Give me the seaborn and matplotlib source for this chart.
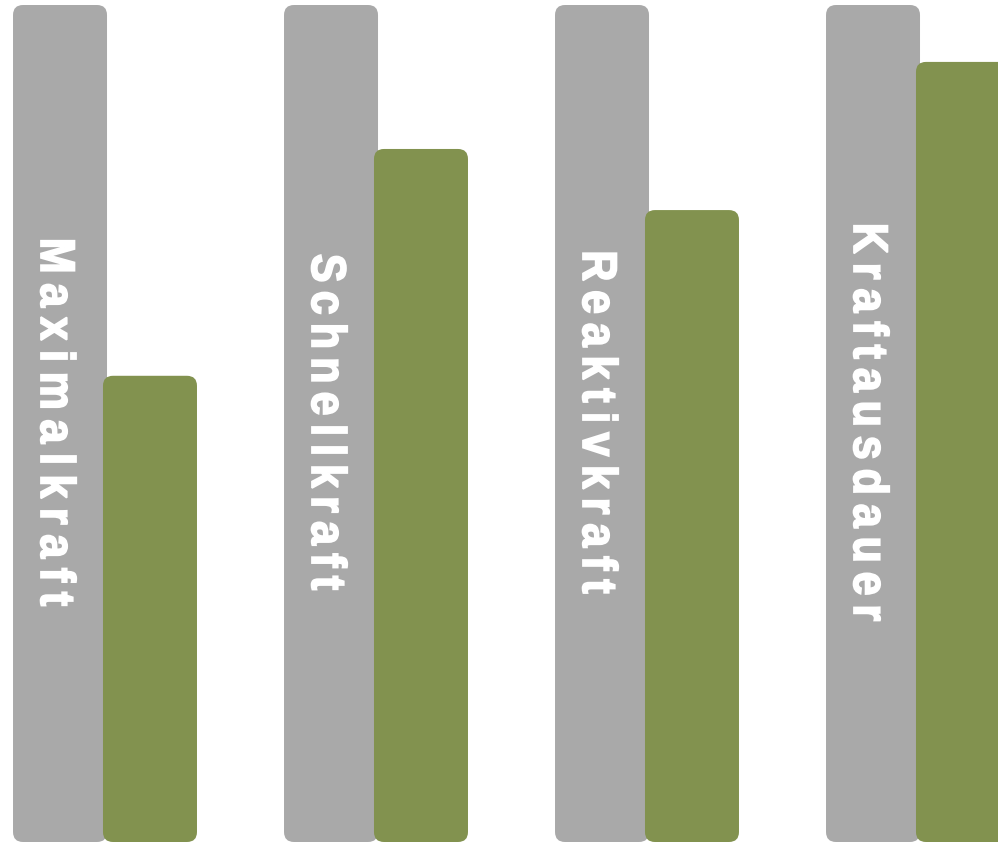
import matplotlib
matplotlib.use("Agg")
import matplotlib.pyplot as plt
from matplotlib import font_manager
from matplotlib.patches import FancyBboxPatch
from matplotlib.patheffects import AbstractPathEffect
from matplotlib.transforms import Affine2D
import seaborn as sns
import pandas as pd

categories = ["Maximalkraft", "Schnellkraft", "Reaktivkraft", "Kraftausdauer"]
series = ["Maximum", "Wert"]
max_values = [100, 100, 100, 100]
values = [55.7, 82.8, 75.5, 93.2]
colors = ["#a9a9a9", "#82924f"]

df = pd.DataFrame({
    "Kategorie": categories * 2,
    "Serie": [series[0]] * 4 + [series[1]] * 4,
    "Wert": max_values + values,
})

# layout: length (px) of each rotated label along the bar
label_len_px = [370, 338, 345, 400]

sns.set_theme(style="white")
W, H, DPI = 998, 843, 100
fig = plt.figure(figsize=(W / DPI, H / DPI), dpi=DPI)
ax = fig.add_axes([0, 0, 1, 1])

sns.barplot(data=df, x="Kategorie", y="Wert", hue="Serie", order=categories,
            hue_order=series, palette=colors, width=0.664, gap=0,
            saturation=1, legend=False, ax=ax, errorbar=None)

xmin, xmax = -105 / 271, (W - 105) / 271
sy = 837 / 100.0
ymin, ymax = -1 / sy, 100 + 5 / sy
ax.set_xlim(xmin, xmax)
ax.set_ylim(ymin, ymax)
ax.set_axis_off()

sx = W / (xmax - xmin)
sy = H / (ymax - ymin)
radius = 10 / sx
aspect = sx / sy
new_w = 94 / sx

rects = list(ax.patches)
gray_centers = []
for i, p in enumerate(rects):
    x, y, w, h = p.get_x(), p.get_y(), p.get_width(), p.get_height()
    cx = x + w / 2
    fc = p.get_facecolor()
    p.remove()
    fb = FancyBboxPatch((cx - new_w / 2, y), new_w, h,
                        boxstyle=f"round,pad=0,rounding_size={radius}",
                        mutation_aspect=aspect, facecolor=fc, edgecolor="none",
                        zorder=2 + (i // 4))
    ax.add_patch(fb)
    if i < 4:
        gray_centers.append((cx, y + h / 2))


class HeavyNarrow(AbstractPathEffect):
    """Condense glyphs along the writing direction and embolden them slightly."""
    def __init__(self, factor, lw_pt, color):
        super().__init__()
        self.factor = factor
        self.lw_pt = lw_pt
        self.color = color

    def draw_path(self, renderer, gc, tpath, affine, rgbFace=None):
        gc0 = renderer.new_gc()
        gc0.copy_properties(gc)
        gc0.set_linewidth(self.lw_pt)
        gc0.set_foreground(self.color)
        gc0.set_joinstyle("miter")
        renderer.draw_path(gc0, tpath, Affine2D().scale(self.factor, 1) + affine, rgbFace)
        gc0.restore()


squeeze = 0.88
stroke_px = 1.8
fontsize = 35
fp = font_manager.FontProperties(family="Liberation Sans", weight="bold", size=fontsize)
fig.canvas.draw()
renderer = fig.canvas.get_renderer()

def ink_w(s):
    w, h, d = renderer.get_text_width_height_descent(s, fp, ismath=False)
    return w * squeeze

base = ink_w("HH")
center_y = H - 422  # display coords of label centres

for (cx, cy), label, L in zip(gray_centers, categories, label_len_px):
    advs = [ink_w("H" + c + "H") - base for c in label]
    spacing = (L - stroke_px - sum(advs)) / (len(label) - 1)
    px, py = ax.transData.transform((cx, cy))
    bx = px - 19
    pos = center_y + L / 2 - stroke_px / 2
    for c, a in zip(label, advs):
        fig.text(bx / W, pos / H, c, fontproperties=fp, color="white",
                 rotation=-90, rotation_mode="anchor", ha="left", va="baseline",
                 zorder=5,
                 path_effects=[HeavyNarrow(squeeze, stroke_px * 72 / DPI, "white")])
        pos -= a + spacing

fig.savefig("out.png", dpi=DPI)
